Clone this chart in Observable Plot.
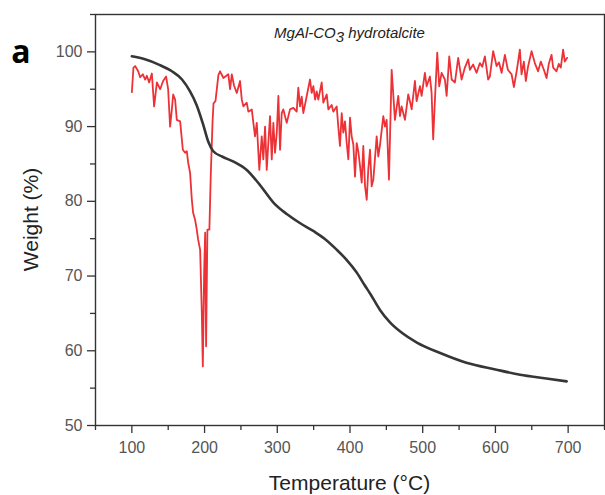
<!DOCTYPE html>
<html>
<head>
<meta charset="utf-8">
<script src="https://cdn.jsdelivr.net/npm/d3@7"></script>
<script src="https://cdn.jsdelivr.net/npm/@observablehq/plot@0.6"></script>
<style>
  html, body { margin: 0; padding: 0; background: #fff; }
  #chart { width: 605px; height: 495px; }
</style>
</head>
<body>
<div id="chart"></div>
<script>
// TGA curve (weight %)
const tgaTemp = [100, 118, 137, 155, 169, 180, 189, 198, 205, 212, 224, 240, 258, 276, 295, 313, 331, 350, 365, 382, 395, 409, 420, 428, 441, 455, 470, 492, 524, 560, 600, 634, 670, 698];
const tgaWeight = [99.4, 99.0, 98.3, 97.4, 96.3, 94.7, 92.9, 90.3, 88.0, 86.7, 86.0, 85.3, 84.2, 82.2, 79.8, 78.3, 77.1, 76.0, 75.0, 73.5, 72.2, 70.5, 68.8, 67.6, 65.5, 63.8, 62.5, 61.1, 59.7, 58.4, 57.5, 56.8, 56.3, 55.9];

// DTG-like red trace (plotted on the same axis)
const dtgTemp = [100, 102.2, 104.5, 108.7, 111.4, 115.1, 118.3, 120.6, 123.8, 127.5, 130.6, 134.4, 138.9, 143.0, 147.1, 149.9, 152.6, 155.0, 156.8, 159.5, 161.8, 166.4, 170.1, 173.2, 175.6, 177.4, 180.1, 182.5, 184.2, 187.0, 189.3, 191.1, 193.9, 196.2, 197.6, 199.4, 200.8, 202.1, 203.9, 206.6, 208.6, 211.0, 212.3, 215.0, 219.0, 221.3, 225.9, 232.7, 235.1, 237.4, 240.5, 244.3, 248.8, 251.2, 253.4, 258.0, 260.2, 264.9, 267.1, 269.4, 271.8, 274.0, 275.3, 278.6, 280.8, 283.2, 285.5, 287.7, 290.0, 292.4, 294.6, 296.9, 299.3, 301.5, 303.8, 306.1, 308.3, 313.0, 317.5, 322.1, 326.7, 328.9, 331.3, 333.6, 335.8, 340.5, 345.0, 347.3, 349.6, 352.0, 354.2, 356.4, 361.1, 363.3, 368.0, 370.2, 374.8, 377.0, 381.7, 383.9, 386.2, 388.6, 390.8, 393.1, 395.5, 397.7, 400.0, 402.3, 404.6, 406.9, 409.2, 411.5, 413.8, 416.1, 418.3, 420.7, 423.0, 425.1, 427.5, 429.8, 432.1, 436.7, 438.9, 441.2, 445.8, 448.1, 450.4, 453.6, 457.3, 461.8, 466.4, 468.7, 471.0, 475.6, 480.1, 482.4, 484.8, 489.3, 491.6, 496.2, 498.5, 503.0, 505.4, 509.9, 512.2, 514.4, 516.8, 520.0, 522.7, 526.0, 530.5, 532.9, 536.5, 539.8, 544.3, 548.8, 553.5, 558.0, 562.6, 564.9, 569.4, 574.1, 578.6, 581.9, 585.5, 590.0, 592.3, 596.9, 601.6, 604.9, 608.5, 613.0, 617.1, 622.2, 625.4, 629.5, 633.6, 635.9, 639.1, 641.8, 644.6, 649.7, 654.2, 658.7, 662.4, 666.6, 670.3, 673.4, 677.2, 679.4, 684.0, 687.2, 689.9, 693.1, 695.4, 698.6];
const dtgValue = [94.6, 97.9, 98.1, 97.4, 96.6, 97.0, 96.3, 96.8, 95.9, 97.1, 92.7, 95.9, 95.0, 96.1, 96.7, 95.0, 90.0, 92.3, 94.3, 93.6, 90.9, 90.7, 86.9, 86.5, 86.7, 85.2, 83.8, 80.2, 78.5, 77.5, 76.2, 74.9, 73.5, 65.1, 57.9, 70.5, 75.8, 60.6, 76.2, 76.2, 83.8, 90.7, 93.1, 93.4, 96.9, 97.4, 96.5, 97.0, 95.0, 97.0, 95.5, 94.5, 96.1, 93.6, 92.7, 93.2, 92.0, 92.3, 90.5, 88.7, 90.5, 86.5, 84.2, 88.7, 85.6, 90.0, 84.2, 87.8, 91.4, 85.6, 90.5, 86.5, 89.2, 94.1, 86.9, 91.8, 92.3, 90.5, 92.3, 92.5, 92.0, 95.2, 92.7, 94.0, 91.8, 94.1, 96.3, 94.5, 95.4, 93.6, 94.7, 93.6, 95.9, 93.2, 94.3, 92.3, 92.9, 92.0, 92.7, 90.0, 87.4, 91.8, 89.2, 90.7, 87.8, 85.6, 91.2, 88.7, 87.6, 83.3, 87.8, 86.6, 84.7, 82.5, 87.4, 82.0, 80.2, 84.2, 86.9, 82.0, 82.9, 88.7, 86.0, 87.5, 91.4, 90.0, 90.9, 82.9, 97.6, 90.9, 94.1, 91.4, 92.7, 90.9, 94.3, 93.4, 92.3, 96.1, 93.4, 95.4, 94.1, 97.2, 95.4, 96.7, 94.5, 88.3, 93.6, 99.9, 95.4, 97.2, 96.3, 94.1, 99.4, 96.3, 95.9, 99.2, 96.3, 97.9, 99.0, 97.6, 98.3, 97.2, 98.5, 98.0, 99.4, 96.3, 96.7, 100.1, 98.1, 98.6, 97.2, 99.6, 97.6, 97.0, 95.3, 97.6, 100.3, 97.0, 98.7, 96.1, 97.9, 100.1, 98.5, 97.4, 98.7, 97.6, 96.5, 98.4, 99.6, 97.9, 97.4, 98.4, 97.9, 100.3, 98.7, 99.2];

const xMajorTicks = [100, 200, 300, 400, 500, 600, 700];
const xMinorTicks = [50, 150, 250, 350, 450, 550, 650, 750];
const yMajorTicks = [50, 60, 70, 80, 90, 100];
const yMinorTicks = [55, 65, 75, 85, 95, 105];

const titleText = "MgAl-CO";
const titleSub = "3";
const titleRest = " hydrotalcite";
const xLabel = "Temperature (°C)";
const yLabel = "Weight (%)";
const panelLabel = "a";

const tga = tgaTemp.map((t, i) => ({t, w: tgaWeight[i]}));
const dtg = dtgTemp.map((t, i) => ({t, w: dtgValue[i]}));

const font = "'Liberation Sans', Arial, sans-serif";

const plot = Plot.plot({
  width: 605,
  height: 495,
  marginLeft: 95,
  marginRight: 1,
  marginTop: 14,
  marginBottom: 70,
  style: {fontFamily: font, background: "white", overflow: "visible"},
  x: {domain: [50, 750]},
  y: {domain: [50, 105]},
  marks: [
    Plot.line(dtg, {x: "t", y: "w", stroke: "#ec3237", strokeWidth: 1.8}),
    Plot.line(tga, {x: "t", y: "w", stroke: "#363636", strokeWidth: 2.6, curve: "monotone-x"}),
    Plot.frame({stroke: "#333", strokeWidth: 1.4}),
    Plot.axisX({ticks: xMajorTicks, tickSize: 8, tickPadding: 8, fontSize: 16, label: null, stroke: "#333", fill: "#555", strokeWidth: 1.3}),
    Plot.axisX({ticks: xMinorTicks, tickSize: 5, text: null, label: null, stroke: "#333", strokeWidth: 1.3}),
    Plot.axisY({ticks: yMajorTicks, tickSize: 8, tickPadding: 5, fontSize: 16, label: null, stroke: "#333", fill: "#555", strokeWidth: 1.3}),
    Plot.axisY({ticks: yMinorTicks, tickSize: 5, text: null, label: null, stroke: "#333", strokeWidth: 1.3})
  ]
});

const svg = d3.select(plot);
const sx = plot.scale("x"), sy = plot.scale("y");
const cx = (sx.range[0] + sx.range[1]) / 2;
const cy = (sy.range[0] + sy.range[1]) / 2;

const t = svg.append("text")
  .attr("x", cx).attr("y", 38)
  .attr("text-anchor", "middle")
  .attr("font-family", font).attr("font-style", "italic")
  .attr("font-size", 15).attr("fill", "#222");
t.append("tspan").text(titleText);
t.append("tspan").attr("dy", 4).text(titleSub);
t.append("tspan").attr("dy", -4).text(titleRest);

svg.append("text")
  .attr("x", cx).attr("y", 490)
  .attr("text-anchor", "middle")
  .attr("font-family", font).attr("font-size", 21).attr("fill", "#222")
  .text(xLabel);

svg.append("text")
  .attr("transform", `translate(38,${cy}) rotate(-90)`)
  .attr("text-anchor", "middle")
  .attr("font-family", font).attr("font-size", 21).attr("fill", "#222")
  .text(yLabel);

svg.append("text")
  .attr("x", 21).attr("y", 63)
  .attr("font-family", "'Open Sans', sans-serif").attr("font-weight", "bold")
  .attr("font-size", 32).attr("fill", "#000")
  .text(panelLabel);

document.getElementById("chart").append(plot);
</script>
</body>
</html>
